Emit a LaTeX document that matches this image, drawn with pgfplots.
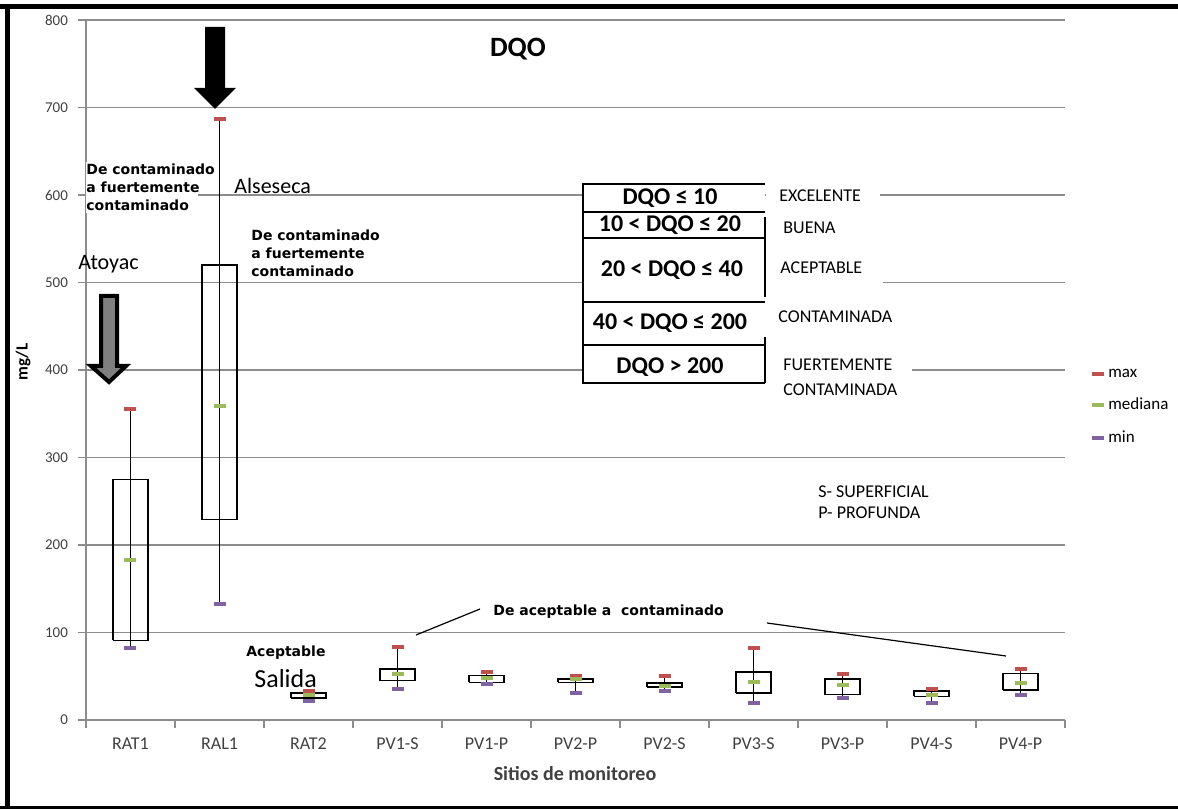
\documentclass[border=0pt]{standalone}
\usepackage{pgfplots}
\pgfplotsset{compat=1.18}
\usepackage{pgfplotstable}
\usepackage{fontspec}
\setmainfont{Carlito}
\newfontfamily\dv{DejaVu Sans}
\definecolor{maxc}{HTML}{C0504D}
\definecolor{medc}{HTML}{9BBB59}
\definecolor{minc}{HTML}{8064A2}
\definecolor{gridc}{HTML}{8C8C8C}
\definecolor{labc}{HTML}{404040}
\definecolor{arrg}{HTML}{7F7F7F}

% min, lower box edge, median, upper box edge, max
\pgfplotstableread{
x min q1 med q3 max
0 82 91 183 275 355
1 133 229 359 520 687
2 22 25 28.6 31 33
3 36 45 52.6 58 84
4 41 43 47.6 51 54.5
5 31 43 47 47 50
6 33 38 38.5 42 50.7
7 20 31 43.4 54.5 82
8 25.5 29 40 47 53
9 20 27 29 33 36
10 29 34 42 53 58
}\data

\begin{document}
\begin{tikzpicture}
\useasboundingbox (0,0) rectangle (589pt,404.5pt);
\begin{axis}[
  at={(43pt,44.5pt)}, anchor=south west,
  scale only axis, width=489.5pt, height=350pt,
  xmin=-0.5, xmax=10.5, ymin=0, ymax=800,
  axis x line*=bottom, axis y line*=left,
  axis line style={-, draw=gridc, line width=0.6pt},
  ytick={0,100,...,800},
  ymajorgrids, grid style={gridc, line width=0.6pt},
  xtick={0,...,10},
  xticklabels={RAT1,RAL1,RAT2,PV1-S,PV1-P,PV2-P,PV2-S,PV3-S,PV3-P,PV4-S,PV4-P},
  minor xtick={-0.5,0.5,...,10.5},
  major x tick style={draw=none},
  tick align=outside,
  major tick length=4pt, minor tick length=4pt,
  tick style={gridc, line width=0.6pt},
  /pgf/number format/assume math mode=true,
  yticklabel style={font=\fontsize{7.5}{9}\selectfont, text=labc, xshift=-1.5pt},
  xticklabel style={font=\fontsize{9}{10}\selectfont, text=labc, yshift=-1.5pt},
  legend style={at={(1.0275,0.508)}, anchor=north west, draw=none, fill=none,
    font=\fontsize{8.5}{10}\selectfont, row sep=5pt, inner sep=0pt},
  legend cell align=left,
  unbounded coords=jump,
]
% boxes (lower to upper box edge, 0.4 wide)
\addplot[forget plot, black, line width=0.85pt, mark=none] coordinates {
 (-0.2,91) (0.2,91) (0.2,275) (-0.2,275) (-0.2,91) (0,nan)
 (0.8,229) (1.2,229) (1.2,520) (0.8,520) (0.8,229) (1,nan)
 (1.8,25) (2.2,25) (2.2,31) (1.8,31) (1.8,25) (2,nan)
 (2.8,45) (3.2,45) (3.2,58) (2.8,58) (2.8,45) (3,nan)
 (3.8,43) (4.2,43) (4.2,51) (3.8,51) (3.8,43) (4,nan)
 (4.8,43) (5.2,43) (5.2,47) (4.8,47) (4.8,43) (5,nan)
 (5.8,38) (6.2,38) (6.2,42) (5.8,42) (5.8,38) (6,nan)
 (6.8,31) (7.2,31) (7.2,54.5) (6.8,54.5) (6.8,31) (7,nan)
 (7.8,29) (8.2,29) (8.2,47) (7.8,47) (7.8,29) (8,nan)
 (8.8,27) (9.2,27) (9.2,33) (8.8,33) (8.8,27) (9,nan)
 (9.8,34) (10.2,34) (10.2,53) (9.8,53) (9.8,34)
};
% whiskers min -- max
\addplot[forget plot, black, line width=0.85pt, mark=none] coordinates {
 (0,82) (0,355) (0,nan)
 (1,133) (1,687) (1,nan)
 (2,22) (2,33) (2,nan)
 (3,36) (3,84) (3,nan)
 (4,41) (4,54.5) (4,nan)
 (5,31) (5,50) (5,nan)
 (6,33) (6,50.7) (6,nan)
 (7,20) (7,82) (7,nan)
 (8,25.5) (8,53) (8,nan)
 (9,20) (9,36) (9,nan)
 (10,29) (10,58)
};
\addplot[only marks, mark=-, mark size=3pt, mark options={draw=maxc, line width=2pt}]
  table[x=x, y=max] {\data};
\addlegendentry{max}
\addplot[only marks, mark=-, mark size=3pt, mark options={draw=medc, line width=2pt}]
  table[x=x, y=med] {\data};
\addlegendentry{mediana}
\addplot[only marks, mark=-, mark size=3pt, mark options={draw=minc, line width=2pt}]
  table[x=x, y=min] {\data};
\addlegendentry{min}
\end{axis}

\begin{scope}[x=0.5pt, y=-0.5pt, yshift=404.5pt]
  % frame
  \fill[black] (0,4) rectangle (1178,9);
  \fill[black] (5,4) rectangle (10,809);
  \fill[black] (0,806) rectangle (1178,809);
  % title and axis labels
  \node[font=\fontsize{14}{16}\selectfont\bfseries] at (518,49) {DQO};
  \node[font=\fontsize{8.5}{10}\selectfont\bfseries, rotate=90] at (23,362) {mg/L};
  \node[font=\fontsize{10}{12}\selectfont\bfseries, text=labc] at (575,774) {Sitios de monitoreo};
  % arrows
  \fill[black] (205,27) -- (225,27) -- (225,88) -- (236,88) -- (215,109) -- (194,88) -- (205,88) -- cycle;
  \draw[fill=arrg, draw=black, line width=2pt, line join=miter]
    (101,296) -- (117,296) -- (117,366) -- (126,366) -- (109,382) -- (91,366) -- (101,366) -- cycle;
  % annotations
  \fill[white] (86,162) rectangle (198,213);
  \node[anchor=north west, inner sep=0pt, align=left, font=\dv\bfseries\fontsize{7}{9}\selectfont]
    at (86,163) {De contaminado\\a fuertemente\\contaminado};
  \node[anchor=west, inner sep=0pt, font=\fontsize{11}{13}\selectfont] at (234,186) {Alseseca};
  \node[anchor=north west, inner sep=0pt, align=left, font=\dv\bfseries\fontsize{7}{9}\selectfont]
    at (251,229) {De contaminado\\a fuertemente\\contaminado};
  \node[anchor=west, inner sep=0pt, font=\fontsize{11}{13}\selectfont] at (78,264) {Atoyac};
  \node[anchor=west, inner sep=0pt, font=\dv\bfseries\fontsize{7}{9}\selectfont] at (246,653) {Aceptable};
  \node[anchor=west, inner sep=0pt, font=\fontsize{13}{15}\selectfont] at (254,679) {Salida};
  \node[anchor=west, inner sep=0pt, font=\dv\bfseries\fontsize{7}{9}\selectfont] at (493,612) {De aceptable a\ \ contaminado};
  \draw[black, line width=0.6pt] (416,635) -- (480,609);
  \draw[black, line width=0.6pt] (767,623) -- (1006,656);
  \node[anchor=west, inner sep=0pt, font=\fontsize{9}{11}\selectfont] at (818,492) {S- SUPERFICIAL};
  \node[anchor=west, inner sep=0pt, font=\fontsize{9}{11}\selectfont] at (818,513) {P- PROFUNDA};
  % quality table
  \fill[white] (766,187) rectangle (880,204);
  \fill[white] (766,274) rectangle (883,291);
  \fill[white] (766,361) rectangle (912,379);
  \fill[white] (583,184) rectangle (765,383);
  \draw[black, line width=0.65pt] (765,184) -- (583,184) -- (583,383) -- (765,383);
  \foreach \yy in {212,238,302,345} \draw[black, line width=0.65pt] (583,\yy) -- (765,\yy);
  \draw[black, line width=0.65pt] (765,217) -- (765,297);
  \draw[black, line width=0.65pt] (765,337) -- (765,383);
  \begin{scope}[every node/.style={inner sep=0pt, font=\fontsize{12}{14}\selectfont\bfseries}]
    \node at (670,198) {DQO ≤ 10};
    \node at (670,225) {10 < DQO ≤ 20};
    \node at (672,270) {20 < DQO ≤ 40};
    \node at (670,323) {40 < DQO ≤ 200};
    \node at (670,367) {DQO > 200};
  \end{scope}
  \begin{scope}[every node/.style={anchor=west, inner sep=0pt, font=\fontsize{9}{11}\selectfont}]
    \node at (779,196) {EXCELENTE};
    \node at (783,228) {BUENA};
    \node at (780,268) {ACEPTABLE};
    \node at (778,317) {CONTAMINADA};
    \node at (783,365) {FUERTEMENTE};
    \node at (783,390) {CONTAMINADA};
  \end{scope}
\end{scope}
\end{tikzpicture}
\end{document}
